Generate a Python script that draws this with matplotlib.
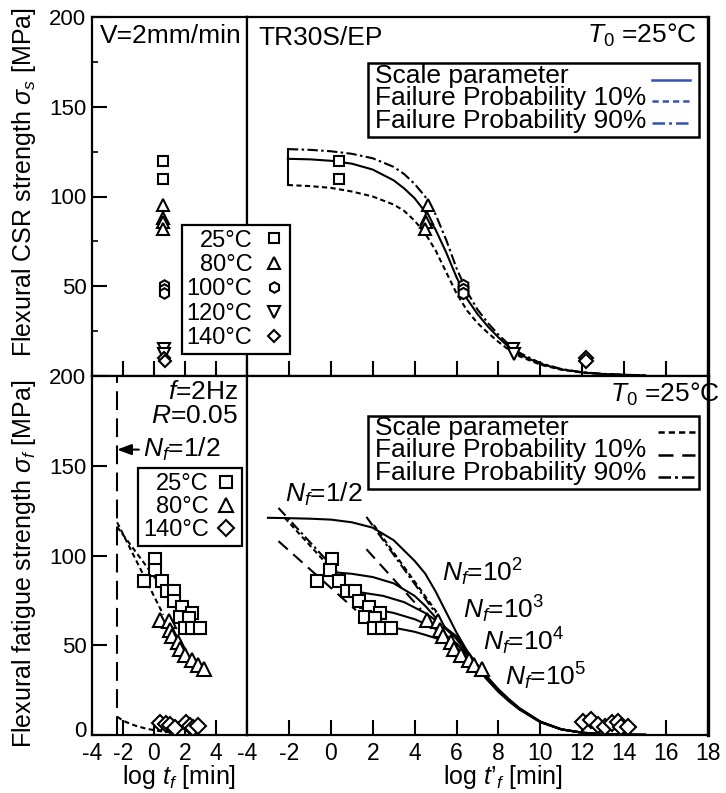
#!/usr/bin/env python3
import numpy as np
import matplotlib
matplotlib.use('Agg')
import matplotlib.pyplot as plt
import matplotlib.transforms as mtransforms
from matplotlib.patches import Rectangle
from matplotlib.lines import Line2D

plt.rcParams['font.family'] = ['Liberation Sans', 'DejaVu Sans']
plt.rcParams['mathtext.fontset'] = 'custom'
plt.rcParams['mathtext.rm'] = 'Liberation Sans'
plt.rcParams['mathtext.it'] = 'Liberation Sans:italic'
plt.rcParams['mathtext.sf'] = 'Liberation Sans'
plt.rcParams['axes.unicode_minus'] = False
plt.rcParams['axes.linewidth'] = 1.6

# ---------------- CSR strength (V=2mm/min) ----------------
csr_temps = ['25°C', '80°C', '100°C', '120°C', '140°C']
csr_markers = ['s', '^', 'h', 'v', 'D']
csr_sizes = [7, 9, 8, 9, 7]

# measured, vs log t_f
csr_t = [[0.55, 0.55], [0.6, 0.6, 0.6, 0.6], [0.65, 0.65, 0.65], [0.65, 0.65], [0.65, 0.7]]
csr_s = [[120, 110], [95, 88, 86, 82], [50.5, 48.5, 46.5], [15, 12.5], [10, 8.5]]
# shifted to T0=25C, vs log t'_f
csr_ts = [[0.4, 0.4], [4.65, 4.6, 4.55, 4.5], [6.33, 6.3, 6.3], [8.7, 8.75], [12.2, 12.2]]

# master curves
csr_fit_x = [-2.05, -1, 0, 1, 2, 3, 3.5, 4, 4.5, 5, 5.5, 6, 6.5, 7, 7.5, 8, 8.5, 9, 10, 11, 12, 13, 14, 15]
csr_scale = [121, 120.7, 119.9, 118.3, 115, 109, 104.5, 99, 91.5, 81.5, 69, 55, 43, 34.5, 27.5, 21.5, 16, 12,
             6.8, 3.7, 2.0, 1.1, 0.65, 0.35]
csr_p10 = [106.4, 105.8, 104.8, 102.8, 100, 95.5, 92, 86.5, 79.5, 70, 58, 46, 36.5, 29.5, 24, 19, 14.5, 11,
           6.3, 3.5, 1.9, 1.05, 0.6, 0.33]
csr_p90 = [126.4, 126, 125.2, 123.8, 121.3, 116.5, 112.5, 107, 100, 90, 76, 60, 47, 37, 29.5, 23, 17.5, 13,
           7.2, 3.9, 2.1, 1.2, 0.7, 0.4]

# ---------------- Fatigue strength (f=2Hz, R=0.05) ----------------
fat_temps = ['25°C', '80°C', '140°C']
fat_markers = ['s', '^', 'D']
fat_sizes = [8.5, 9.5, 8]

fat_t_25 = [0.09, 0.04, -0.67, 0.52, 0.84, 1.27, 1.27, 1.81, 2.45, 1.7, 2.24, 2.02, 2.45, 2.99]
fat_ts_25 = [0.06, -0.02, -0.65, 0.37, 0.77, 1.17, 1.33, 1.81, 2.36, 1.65, 2.13, 2.05, 2.45, 2.85]
fat_s_25 = [98, 92, 86, 86, 80, 80, 74.5, 71.5, 68, 66, 65, 59.5, 59.5, 59.5]

fat_t_80 = [0.4, 0.95, 1.05, 1.15, 1.55, 1.7, 2.0, 2.45, 2.85, 3.2]
fat_ts_80 = [4.6, 5.1, 5.2, 5.35, 5.75, 5.9, 6.2, 6.6, 6.85, 7.2]
fat_s_80 = [64, 63.5, 58.5, 55, 52, 48, 44.5, 42, 39, 37]

fat_t_140 = [0.4, 0.75, 1.0, 1.35, 2.05, 2.3, 2.5, 2.85]
fat_s_140 = [6.5, 6, 5.5, 3.8, 6.5, 5, 4, 4.8]
fat_ts_140 = [12.05, 12.4, 12.75, 13.1, 13.4, 13.7, 13.85, 14.2]
fat_ss_140 = [7.4, 8.4, 5.6, 4.5, 6.5, 7.4, 4.7, 4.7]

# N_f = 1/2 at 2 Hz, in log(min)
logt_half = np.log10(0.5 / 2.0 / 60.0)

# fitted lines on the measured time axis
fit25_a_x = [logt_half, 0.6]
fit25_a_s = [118.5, 67]
fit25_b_x = [logt_half, 0.2]
fit25_b_s = [116, 86]
fit140_x = [logt_half, -2.1, -1.8, -1.2, -0.5, 0.2, 1.0]
fit140_s = [10.2, 8.6, 7.2, 5.2, 3.5, 2.4, 1.6]

# master curve (N_f = 1/2) and constant-cycle curves on the shifted axis
fat_fit_x = [-3, -2, -1, 0, 1, 2, 3, 4, 4.5, 5, 5.5, 6, 6.5, 7, 7.5, 8, 8.5, 9, 10, 11, 12, 13, 14, 15]
fat_master = [121, 120.8, 120.5, 120, 118.5, 115.5, 108.5, 97, 90, 80, 68.5, 57, 47, 39, 32, 25.5, 20, 15,
              7.5, 3.2, 1.3, 0.5, 0.2, 0.1]

nf2_x = [0.3, 1, 2, 3, 4, 4.5, 5, 5.5, 6, 6.5, 7, 7.5, 8, 8.5, 9, 10, 11, 12, 13, 14, 15]
nf2_s = [90.5, 89.8, 88, 84.5, 77.5, 72, 65.5, 59.5, 55, 46, 38.5, 31.5, 25, 19.5, 14.8, 7.4, 3.2, 1.3, 0.5, 0.2, 0.1]
nf3_x = [0.75, 1.5, 2.5, 3.5, 4.5, 5, 5.5, 6, 6.5, 7, 7.5, 8, 8.5, 9, 10, 11, 12, 13, 14, 15]
nf3_s = [80, 79.3, 77.5, 74, 68, 64, 59, 53.5, 45.5, 38, 31, 24.5, 19.3, 14.6, 7.3, 3.2, 1.3, 0.5, 0.2, 0.1]
nf4_x = [1.4, 2, 3, 4, 4.5, 5, 5.5, 6, 6.5, 7, 7.5, 8, 8.5, 9, 10, 11, 12, 13, 14, 15]
nf4_s = [70.8, 70.3, 68, 64.5, 62, 59, 55.5, 51, 44.5, 37.5, 30.5, 24.2, 19, 14.4, 7.2, 3.1, 1.3, 0.5, 0.2, 0.1]
nf5_x = [2.05, 3, 4, 4.5, 5, 5.5, 6, 6.5, 7, 7.5, 8, 8.5, 9, 10, 11, 12, 13, 14, 15]
nf5_s = [61.5, 59.8, 57.5, 55.8, 54, 51.5, 48, 43.5, 37, 30.3, 24, 18.8, 14.2, 7.1, 3.1, 1.2, 0.5, 0.2, 0.1]

# N_f = 1/2 straight lines (upper = 90%, middle = scale, lower = 10%)
half1_p90 = ([-2.5, 0.3], [126.5, 91])
half1_scale = ([-2.2, 0.3], [121, 89])
half1_p10 = ([-2.5, 1.2], [108, 69.5])
half2_p90 = ([1.7, 5.0], [121.5, 68])
half2_scale = ([2.05, 5.05], [117, 68.5])
half2_p10 = ([1.7, 4.3], [103.5, 70])

nf_labels = ['$N_f$=1/2', '$N_f$=10$^2$', '$N_f$=10$^3$', '$N_f$=10$^4$', '$N_f$=10$^5$']
nf_label_x = [-2.2, 5.29, 6.33, 7.28, 8.32]
nf_label_y = [130, 85.4, 65, 47.4, 27.9]

key_labels = ['Scale parameter', 'Failure Probability 10%', 'Failure Probability 90%']

SHORT = (0, (2.5, 1.6))
LONG = (0, (6, 3.5))
DASHDOT = (0, (5, 1.6, 1.2, 1.6))
VLONG = (0, (9, 4))
BLUE = '#3452b4'

W, H = 726, 793
fig = plt.figure(figsize=(W / 100, H / 100), dpi=100)


def px_axes(l, t, r, b):
    return fig.add_axes([l / W, 1 - b / H, (r - l) / W, (b - t) / H])


ax_tl = px_axes(92, 17, 247, 376)
ax_tr = px_axes(247, 17, 708, 376)
ax_bl = px_axes(92, 376, 247, 735)
ax_br = px_axes(247, 376, 708, 735)

for ax in (ax_tl, ax_tr, ax_bl, ax_br):
    ax.set_ylim(0, 200)
    ax.tick_params(which='major', direction='in', length=11, width=1.5, labelsize=16, pad=4)
    ax.tick_params(axis='x', labelsize=16.5, pad=5)
    ax.tick_params(top=False, right=False)
for ax in (ax_tr, ax_br):
    ax.spines['right'].set_linewidth(2.4)
for ax in (ax_tl, ax_bl):
    ax.set_xlim(-4, 6)
    ax.set_xticks([-4, -2, 0, 2, 4])
for ax in (ax_tr, ax_br):
    ax.set_xlim(-4, 18)
    ax.set_xticks(np.arange(-4, 19, 2))
    ax.tick_params(left=False, labelleft=False)
for ax in (ax_tl, ax_tr):
    ax.tick_params(labelbottom=False)

ax_tl.set_yticks([0, 50, 100, 150, 200])
ax_tl.set_yticklabels(['', '50', '100', '150', '200'])
ax_tl.set_yticks([25, 75, 125, 175], minor=True)
ax_tl.tick_params(which='minor', direction='in', length=4, width=1.2)
ax_bl.set_yticks([0, 50, 100, 150, 200])

# lift the "0" label a little so it clears the x tick labels below it
zero_tick = ax_bl.yaxis.get_major_ticks()[0]
zero_tick.label1.set_transform(zero_tick.label1.get_transform()
                               + mtransforms.ScaledTranslation(0, 4 / 72, fig.dpi_scale_trans))

mk = dict(ls='none', mfc='white', mec='k', mew=1.5, zorder=4)

# ---- top left: measured CSR strength ----
for t, s, m, ms in zip(csr_t, csr_s, csr_markers, csr_sizes):
    ax_tl.plot(t, s, marker=m, ms=ms - 0.5, **mk)
ax_tl.text(0.052, 0.928, 'V=2mm/min', transform=ax_tl.transAxes, fontsize=19, va='baseline')
ax_tl.set_ylabel('Flexural CSR strength $\\sigma_s$ [MPa]', fontsize=18)
ax_tl.yaxis.set_label_coords(-0.348, 0.539)

# ---- top right: master curve of CSR strength ----
ax_tr.plot(csr_fit_x, csr_scale, color='k', lw=1.5)
ax_tr.plot(csr_fit_x, csr_p10, color='k', lw=1.5, ls=SHORT)
ax_tr.plot(csr_fit_x, csr_p90, color='k', lw=1.5, ls=DASHDOT)
ax_tr.plot([csr_fit_x[0], csr_fit_x[0]], [csr_p10[0], csr_p90[0]], color='k', lw=1.5)
for t, s, m, ms in zip(csr_ts, csr_s, csr_markers, csr_sizes):
    ax_tr.plot(t, s, marker=m, ms=ms, **mk)
ax_tr.text(0.024, 0.922, 'TR30S/EP', transform=ax_tr.transAxes, fontsize=19, va='baseline')
ax_tr.text(0.976, 0.928, '$T_0$ =25°C', transform=ax_tr.transAxes, fontsize=19, va='baseline', ha='right')


def line_key(ax, top, bottom, text_y, line_y, line_x, styles, color):
    ax.add_patch(Rectangle((0.2625, bottom), 0.9805 - 0.2625, top - bottom, transform=ax.transAxes,
                           fc='white', ec='k', lw=1.8, zorder=6))
    for label, ls, ty, ly in zip(key_labels, styles, text_y, line_y):
        ax.text(0.278, ty, label, transform=ax.transAxes, va='baseline', fontsize=19, zorder=7)
        ax.plot(line_x, [ly, ly], transform=ax.transAxes, color=color, ls=ls, lw=1.8, zorder=7)


line_key(ax_tr, 0.872, 0.666, [0.8175, 0.755, 0.692], [0.8245, 0.766, 0.705], [0.8785, 0.961],
         ['-', SHORT, DASHDOT], BLUE)

temp_handles = [Line2D([], [], marker=m, ms=ms - 0.5, **mk) for m, ms in zip(csr_markers, csr_sizes)]
leg = fig.legend(temp_handles, csr_temps, loc='upper left', bbox_to_anchor=(182 / W, 1 - 225 / H),
                 borderaxespad=0, markerfirst=False, fancybox=False, edgecolor='k', framealpha=1,
                 fontsize=17, handlelength=1.0, handletextpad=0.4, labelspacing=0.1, borderpad=0.2)
leg.get_frame().set_linewidth(1.6)

# ---- bottom left: measured fatigue strength ----
ax_bl.axvline(logt_half, color='k', lw=1.5, ls=VLONG)
ax_bl.plot(fit25_a_x, fit25_a_s, color='k', lw=1.5, ls=SHORT)
ax_bl.plot(fit25_b_x, fit25_b_s, color='k', lw=1.5, ls=SHORT)
ax_bl.plot(fit140_x, fit140_s, color='k', lw=1.5, ls=SHORT)
ax_bl.plot(fat_t_25, fat_s_25, marker='s', ms=fat_sizes[0], **mk)
ax_bl.plot(fat_t_80, fat_s_80, marker='^', ms=fat_sizes[1], **mk)
ax_bl.plot(fat_t_140, fat_s_140, marker='D', ms=fat_sizes[2], **mk)
ax_bl.text(0.942, 0.936, '$f$=2Hz', transform=ax_bl.transAxes, fontsize=19, va='baseline', ha='right')
ax_bl.text(0.942, 0.868, '$R$=0.05', transform=ax_bl.transAxes, fontsize=19, va='baseline', ha='right')
ax_bl.annotate('$N_f$=1/2', xy=(logt_half, 159), xytext=(-0.71, 159), fontsize=19, va='center',
               arrowprops=dict(arrowstyle='-|>,head_length=0.45,head_width=0.17', color='k', lw=1.5,
                               shrinkA=1, shrinkB=0))
fat_handles = [Line2D([], [], marker=m, ms=ms, **mk) for m, ms in zip(fat_markers, fat_sizes)]
leg2 = ax_bl.legend(fat_handles, fat_temps, loc='upper left', bbox_to_anchor=(0.297, 0.743),
                    borderaxespad=0, markerfirst=False, fancybox=False, edgecolor='k', framealpha=1,
                    fontsize=17, handlelength=0.9, handletextpad=0.3, labelspacing=0.05, borderpad=0.2)
leg2.get_frame().set_linewidth(1.6)
ax_bl.set_ylabel('Flexural fatigue strength $\\sigma_f$ [MPa]', fontsize=18)
ax_bl.yaxis.set_label_coords(-0.348, 0.478)
ax_bl.set_xlabel('log $t_f$ [min]', fontsize=18)
ax_bl.xaxis.set_label_coords(0.56, -0.078)

# ---- bottom right: shifted fatigue data and master curves ----
ax_br.plot(fat_fit_x, fat_master, color='k', lw=1.5)
for x, s in ((nf2_x, nf2_s), (nf3_x, nf3_s), (nf4_x, nf4_s), (nf5_x, nf5_s)):
    ax_br.plot(x, s, color='k', lw=1.5)
for (x, s), ls in ((half1_p90, DASHDOT), (half1_scale, SHORT), (half1_p10, LONG),
                   (half2_p90, DASHDOT), (half2_scale, SHORT), (half2_p10, LONG)):
    ax_br.plot(x, s, color='k', lw=1.5, ls=ls)
ax_br.plot(fat_ts_25, fat_s_25, marker='s', ms=fat_sizes[0], **mk)
ax_br.plot(fat_ts_80, fat_s_80, marker='^', ms=fat_sizes[1], **mk)
ax_br.plot(fat_ts_140, fat_ss_140, marker='D', ms=fat_sizes[2], **mk)
for lab, x, y in zip(nf_labels, nf_label_x, nf_label_y):
    ax_br.text(x, y, lab, fontsize=19, va='baseline')
ax_br.text(1.026, 0.928, '$T_0$ =25°C', transform=ax_br.transAxes, fontsize=19, va='baseline', ha='right')
line_key(ax_br, 0.8886, 0.685, [0.8357, 0.7744, 0.7103], [0.845, 0.78, 0.7187], [0.8915, 0.972],
         [SHORT, LONG, DASHDOT], 'k')
ax_br.set_xlabel('log $t’_f$ [min]', fontsize=18)
ax_br.xaxis.set_label_coords(0.555, -0.078)

fig.savefig('out.png', dpi=100)
